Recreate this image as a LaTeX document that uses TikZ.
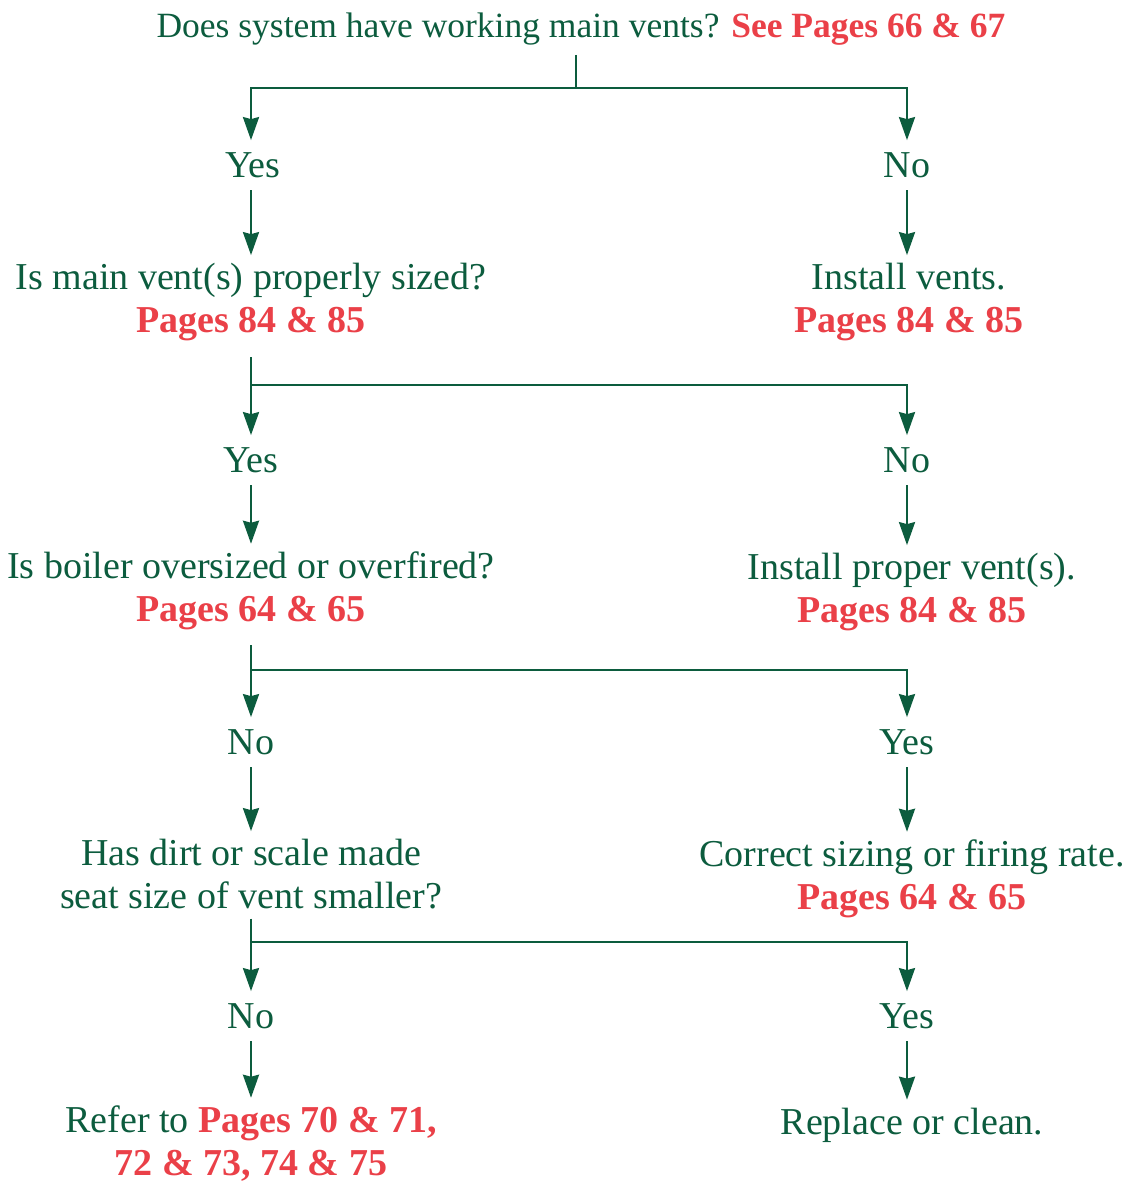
\documentclass[tikz,border=0pt]{standalone}
\usepackage{fontspec}
\setmainfont{Liberation Serif}
\usetikzlibrary{arrows.meta}
\definecolor{flowgreen}{RGB}{12,92,62}
\definecolor{pagered}{RGB}{234,64,72}
\newcommand{\pg}[1]{{\color{pagered}\bfseries #1}}
\begin{document}
\begin{tikzpicture}[x=1pt,y=-1pt,
  txt/.style={text=flowgreen,inner sep=0pt,outer sep=0pt,anchor=base,align=center,
    font=\fontsize{38}{42.5}\selectfont},
  link/.style={draw=flowgreen,line width=2.4pt},
  arr/.style={link,-{Stealth[length=23pt,width=16pt,inset=2pt]}},
  split/.style={arr,shorten <=#1,shorten >=12pt},
  fork/.style={arr,shorten >=12pt},
  next/.style={arr,shorten <=13pt,shorten >=8pt}]
\useasboundingbox (0,0) rectangle (1131,1181);
\coordinate (L) at (251,0);
\coordinate (R) at (907,0);

% question and answer texts (base anchor = baseline of the last line)
\node[txt,font=\fontsize{35.5}{42.5}\selectfont] (q1) at (581,37) {Does system have working main vents? \pg{See Pages 66 \& 67}};
\node[txt] (yes1) at (253,177) {Yes};
\node[txt] (no1) at (907,177) {No};
\node[txt] (q2) at (251,332) {Is main vent(s) properly sized?\\\pg{Pages 84 \& 85}};
\node[txt] (fix1) at (909,332) {Install vents.\\\pg{Pages 84 \& 85}};
\node[txt] (yes2) at (251,472) {Yes};
\node[txt] (no2) at (907,472) {No};
\node[txt] (q3) at (251,621) {Is boiler oversized or overfired?\\\pg{Pages 64 \& 65}};
\node[txt] (fix2) at (912,622) {Install proper vent(s).\\\pg{Pages 84 \& 85}};
\node[txt] (no3) at (251,754) {No};
\node[txt] (yes3) at (907,754) {Yes};
\node[txt] (q4) at (251,908) {Has dirt or scale made\\seat size of vent smaller?};
\node[txt] (fix3) at (912,909) {Correct sizing or firing rate.\\\pg{Pages 64 \& 65}};
\node[txt] (no4) at (251,1028) {No};
\node[txt] (yes4) at (907,1028) {Yes};
\node[txt] (end1) at (251,1175) {Refer to \pg{Pages 70 \& 71,}\\\pg{72 \& 73, 74 \& 75}};
\node[txt] (fix4) at (912,1134) {Replace or clean.};

% branch points
\coordinate (b1) at (576,88);
\coordinate (b2) at (251,385);
\coordinate (b3) at (251,670);
\coordinate (b4) at (251,942);

% first split
\draw[link,shorten <=10pt] (q1.south -| b1) -- (b1);
\draw[fork] (b1) -| (yes1.north -| L);
\draw[fork] (b1) -| (no1.north -| R);
\draw[next] (yes1.south -| L) -- (q2.north -| L);
\draw[next] (no1.south -| R) -- (fix1.north -| R);

% second split
\draw[split=17pt] (q2.south -| L) -- (yes2.north -| L);
\draw[fork] (b2) -| (no2.north -| R);
\draw[next] (yes2.south -| L) -- (q3.north -| L);
\draw[next] (no2.south -| R) -- (fix2.north -| R);

% third split
\draw[split=16pt] (q3.south -| L) -- (no3.north -| L);
\draw[fork] (b3) -| (yes3.north -| R);
\draw[next] (no3.south -| L) -- (q4.north -| L);
\draw[next] (yes3.south -| R) -- (fix3.north -| R);

% fourth split
\draw[split=10pt] (q4.south -| L) -- (no4.north -| L);
\draw[fork] (b4) -| (yes4.north -| R);
\draw[next] (no4.south -| L) -- (end1.north -| L);
\draw[next] (yes4.south -| R) -- (fix4.north -| R);
\end{tikzpicture}
\end{document}
